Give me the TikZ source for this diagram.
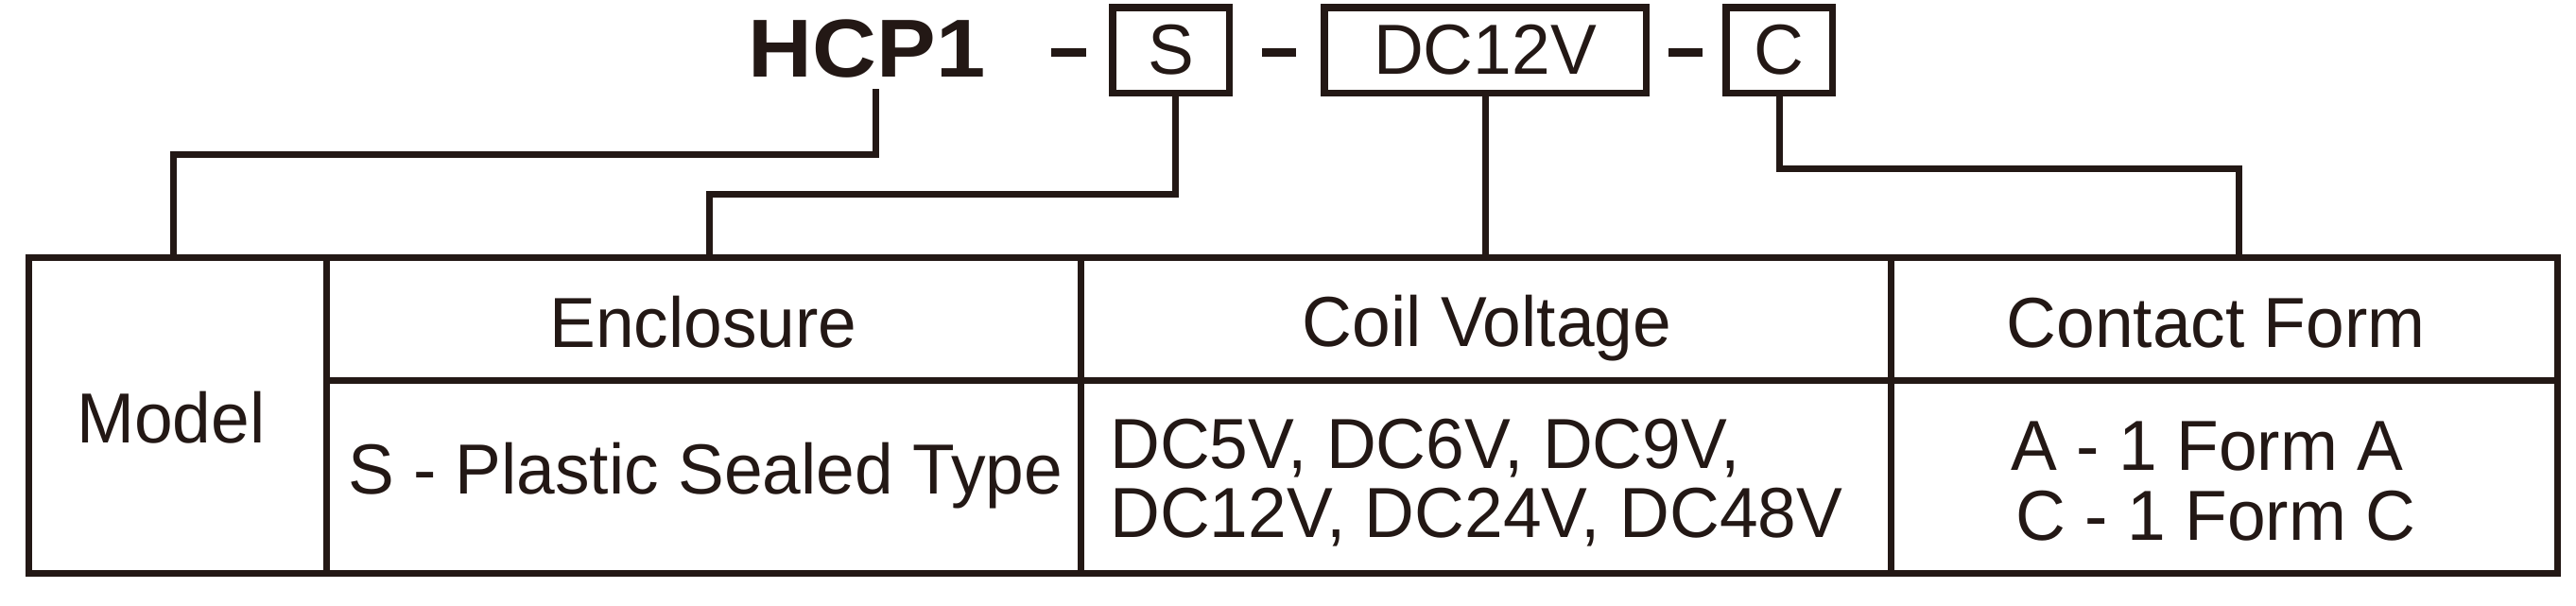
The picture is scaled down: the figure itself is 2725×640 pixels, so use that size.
\documentclass[tikz,border=0pt]{standalone}
\usepackage{fontspec}
\setmainfont{Liberation Sans}[FakeStretch=0.975]
\newfontfamily\hcpfont{Liberation Sans}[FakeStretch=1.08]
\definecolor{ink}{HTML}{231815}
\begin{document}
\begin{tikzpicture}[x=1pt,y=-1pt,
  rule/.style={draw=ink, line width=7pt},
  bar/.style={draw=ink, line width=9pt},
  txt/.style={inner sep=0pt, text=ink, font=\fontsize{75}{88}\selectfont},
  codebox/.style={draw=ink, line width=7.5pt, inner sep=0pt, minimum height=90.5pt,
                  text=ink, font=\fontsize{75}{88}\selectfont}]
\useasboundingbox (0,0) rectangle (2725,640);

% code line
\node[inner sep=0pt, text=ink, font=\hcpfont\bfseries\fontsize{87}{100}\selectfont, anchor=base] (hcp) at (917,81) {HCP1};
\node[codebox, minimum width=123.5pt] (sbox) at (1238.5,53) {S};
\node[codebox, minimum width=340.5pt] (dcbox) at (1571,53) {DC12V};
\node[codebox, minimum width=112.5pt] (cbox) at (1882,53) {C};
\draw[bar] (1112,55) -- (1149,55);
\draw[bar] (1335,55) -- (1371,55);
\draw[bar] (1765,55) -- (1801,55);

% table
\draw[rule] (30,272) rectangle (2705,606);
\draw[rule] (345,272) -- (345,606);
\draw[rule] (1143,272) -- (1143,606);
\draw[rule] (2000,272) -- (2000,606);
\draw[rule] (345,402) -- (2705,402);

\node[txt, anchor=base] (model) at (181,468) {Model};
\node[txt, anchor=base] (enc) at (744,367) {Enclosure};
\node[txt, anchor=base] (coil) at (1573,366) {Coil Voltage};
\node[txt, anchor=base] (cform) at (2344,367) {Contact Form};
\node[txt, anchor=base] (encv) at (746,522) {S - Plastic Sealed Type};
\node[txt, anchor=base west] (coil1) at (1174,495) {DC5V, DC6V, DC9V,};
\node[txt, anchor=base west] (coil2) at (1174,568) {DC12V, DC24V, DC48V};
\node[txt, anchor=base] (cf1) at (2335,497) {A - 1 Form A};
\node[txt, anchor=base] (cf2) at (2344,571) {C - 1 Form C};

% connector ends
\coordinate (hcpc) at (926,94);
\coordinate (mt) at (183,272);
\coordinate (st) at (750,272);
\coordinate (dt) at (1571,272);
\coordinate (ct) at (2368,272);

% connectors
\draw[rule] (hcpc) -- ++(0,69) -| (mt);
\draw[rule] ([xshift=4.5pt]sbox.south) -- ++(0,103) -| (st);
\draw[rule] (dcbox.south) -- (dt);
\draw[rule] (cbox.south) -- ++(0,76) -| (ct);
\end{tikzpicture}
\end{document}
